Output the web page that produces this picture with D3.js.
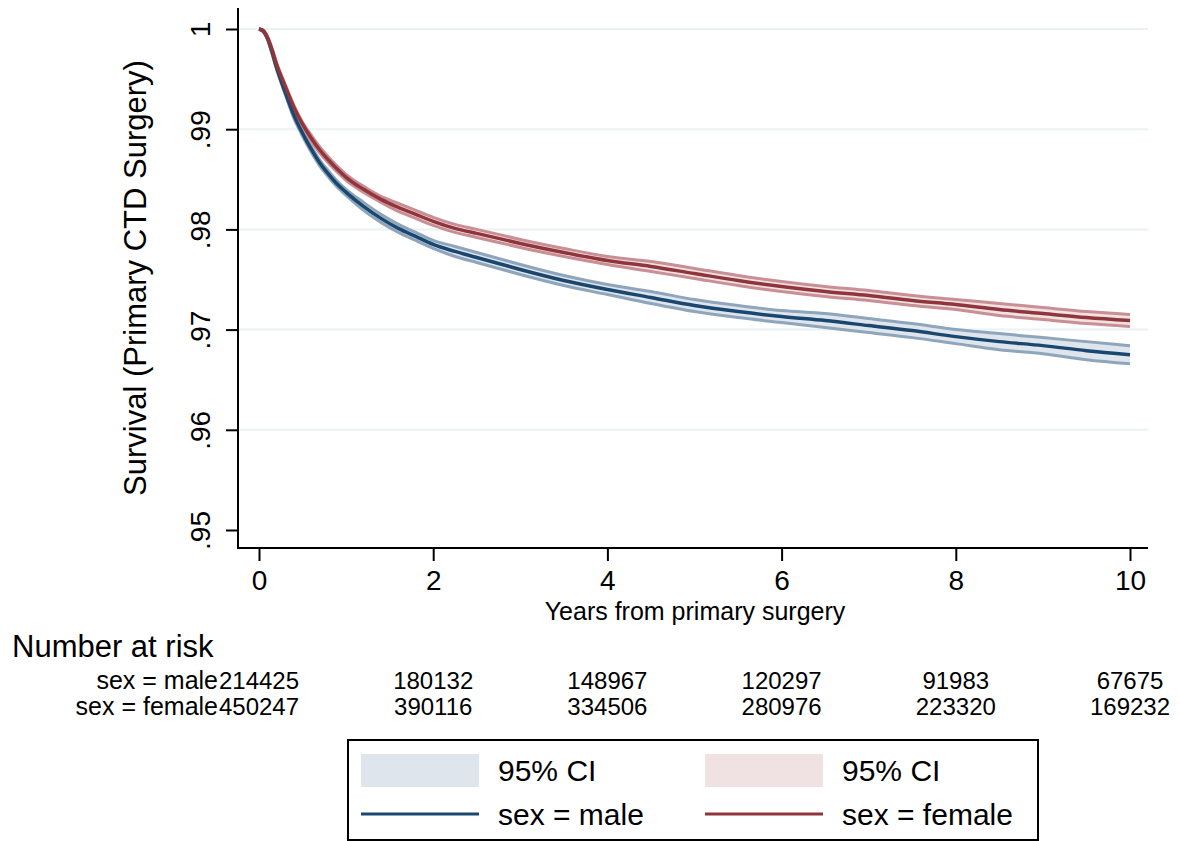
<!DOCTYPE html>
<html>
<head>
<meta charset="utf-8">
<script src="https://cdn.jsdelivr.net/npm/d3@7"></script>
<style>
  body { margin: 0; background: #fff; }
  text { font-family: "Liberation Sans", Arial, sans-serif; fill: #000; }
</style>
</head>
<body>
<script>
// Kaplan-Meier estimates
const years = [0, 0.05, 0.1, 0.15, 0.2, 0.3, 0.4, 0.5, 0.6, 0.7, 0.8, 0.9, 1.0, 1.2, 1.4, 1.6, 1.8, 2.0,
  2.25, 2.5, 2.75, 3.0, 3.5, 4.0, 4.5, 5.0, 5.5, 6.0, 6.5, 7.0, 7.5, 8.0, 8.5, 9.0, 9.5, 10];

const maleSurv = [1.0, .9998, .9990, .9977, .9962, .9937, .9914, .9896, .9880, .9866, .9855, .9845, .9837, .9823, .9811, .9801, .9793, .9785,
  .9778, .9772, .9766, .9760, .9749, .9740, .9732, .9724, .9718, .9713, .9709, .9704, .9699, .9693, .9688, .9684, .9679, .9675];
const maleLo = [1.0, .9997, .9989, .9975, .9960, .9935, .9911, .9893, .9877, .9863, .9852, .9842, .9834, .9819, .9807, .9797, .9789, .9781,
  .9773, .9767, .9761, .9755, .9744, .9735, .9726, .9718, .9712, .9707, .9702, .9697, .9692, .9686, .9680, .9676, .9670, .9666];
const maleHi = [1.0, .9999, .9991, .9979, .9964, .9939, .9917, .9899, .9883, .9869, .9858, .9848, .9840, .9827, .9815, .9805, .9797, .9789,
  .9783, .9777, .9771, .9765, .9754, .9745, .9738, .9730, .9724, .9719, .9716, .9711, .9706, .9700, .9696, .9692, .9688, .9684];

const femaleSurv = [1.0, .9998, .9991, .9979, .9965, .9943, .9922, .9905, .9891, .9879, .9869, .9860, .9852, .9840, .9830, .9822, .9815, .9808,
  .9801, .9796, .9791, .9786, .9777, .9769, .9763, .9756, .9749, .9743, .9738, .9734, .9729, .9725, .9720, .9716, .9712, .9709];
const femaleLo = [1.0, .9997, .9990, .9977, .9963, .9941, .9920, .9903, .9888, .9876, .9866, .9857, .9849, .9837, .9827, .9818, .9811, .9804,
  .9797, .9792, .9787, .9782, .9773, .9765, .9758, .9751, .9744, .9738, .9733, .9729, .9724, .9720, .9714, .9710, .9706, .9703];
const femaleHi = [1.0, .9999, .9992, .9981, .9967, .9945, .9924, .9907, .9894, .9882, .9872, .9863, .9855, .9843, .9833, .9826, .9819, .9812,
  .9805, .9800, .9795, .9790, .9781, .9773, .9768, .9761, .9754, .9748, .9743, .9739, .9734, .9730, .9726, .9722, .9718, .9715];

// number at risk table
const riskTimes = [0, 2, 4, 6, 8, 10];
const maleAtRisk = [214425, 180132, 148967, 120297, 91983, 67675];
const femaleAtRisk = [450247, 390116, 334506, 280976, 223320, 169232];

const xTicks = [0, 2, 4, 6, 8, 10];
const yTicks = [.95, .96, .97, .98, .99, 1];
const gridTicks = [.96, .97, .98, .99, 1];

const W = 1180, H = 841;
const plot = {left: 238, right: 1148, top: 8, bottom: 548};

const svg = d3.select("body").append("svg")
    .attr("width", W)
    .attr("height", H);

const x = d3.scaleLinear().domain([0, 10]).range([259, 1130]);
const y = d3.scaleLinear().domain([.95, 1]).range([530, 29]);

// gridlines
svg.append("g").attr("class", "grid")
  .selectAll("line").data(gridTicks)
  .enter().append("line")
    .attr("x1", plot.left + 1).attr("x2", plot.right)
    .attr("y1", d => y(d)).attr("y2", d => y(d))
    .attr("stroke", "#eaf2f3").attr("stroke-width", 2);

const series = [
  {surv: maleSurv, lo: maleLo, hi: maleHi, line: "#1a476f", edge: "#8ea5bb", fill: "#dfe5ec"},
  {surv: femaleSurv, lo: femaleLo, hi: femaleHi, line: "#90353b", edge: "#c98f95", fill: "#f0e2e3"}
];

const band = d3.area()
    .x((d, i) => x(years[i]))
    .y0(d => y(d[0]))
    .y1(d => y(d[1]))
    .curve(d3.curveMonotoneX);
const line = d3.line()
    .x((d, i) => x(years[i]))
    .y(d => y(d))
    .curve(d3.curveMonotoneX);

// CI bands first, then the estimates on top
series.forEach(s => {
  const pairs = s.lo.map((v, i) => [v, s.hi[i]]);
  svg.append("path").attr("d", band(pairs)).attr("fill", s.fill);
  [s.lo, s.hi].forEach(b => {
    svg.append("path").attr("d", line(b))
      .attr("fill", "none").attr("stroke", s.edge).attr("stroke-width", 3);
  });
});
series.forEach(s => {
  svg.append("path").attr("d", line(s.surv))
    .attr("fill", "none").attr("stroke", s.line).attr("stroke-width", 3.5);
});

// y axis
const yAxis = svg.append("g")
    .attr("transform", `translate(${plot.left},0)`)
    .call(d3.axisLeft(y).tickValues(yTicks).tickSize(12)
      .tickFormat(d => d === 1 ? "1" : d3.format(".2f")(d).replace(/^0/, "")));
yAxis.select(".domain").remove();
yAxis.selectAll(".tick line").attr("stroke", "#000").attr("stroke-width", 2);
yAxis.selectAll(".tick text")
    .attr("transform", "rotate(-90)")
    .attr("x", 0).attr("y", -28).attr("dy", 0)
    .attr("text-anchor", "middle")
    .style("font-size", "28px")
    .style("font-family", '"Liberation Sans", Arial, sans-serif');

// x axis
const xAxis = svg.append("g")
    .attr("transform", `translate(0,${plot.bottom + 1})`)
    .call(d3.axisBottom(x).tickValues(xTicks).tickSize(12).tickPadding(9));
xAxis.select(".domain").remove();
xAxis.selectAll(".tick line").attr("stroke", "#000").attr("stroke-width", 2);
xAxis.selectAll(".tick text")
    .style("font-size", "28px")
    .style("font-family", '"Liberation Sans", Arial, sans-serif');

// axis lines
svg.append("line")
    .attr("x1", plot.left).attr("x2", plot.left)
    .attr("y1", plot.top).attr("y2", plot.bottom + 1)
    .attr("stroke", "#000").attr("stroke-width", 2);
svg.append("line")
    .attr("x1", plot.left - 1).attr("x2", plot.right)
    .attr("y1", plot.bottom).attr("y2", plot.bottom)
    .attr("stroke", "#000").attr("stroke-width", 2);

// titles
svg.append("text")
    .attr("transform", "translate(146,278) rotate(-90)")
    .attr("text-anchor", "middle")
    .style("font-size", "31px")
    .text("Survival (Primary CTD Surgery)");
svg.append("text")
    .attr("x", 695).attr("y", 620)
    .attr("text-anchor", "middle")
    .style("font-size", "25px")
    .text("Years from primary surgery");

// number at risk
svg.append("text")
    .attr("x", 12).attr("y", 657)
    .style("font-size", "31px")
    .text("Number at risk");

const riskRows = [
  {label: "sex = male", counts: maleAtRisk, y: 689},
  {label: "sex = female", counts: femaleAtRisk, y: 715}
];
riskRows.forEach(r => {
  svg.append("text")
      .attr("x", 218).attr("y", r.y)
      .attr("text-anchor", "end")
      .style("font-size", "25px")
      .text(r.label);
  svg.append("g").selectAll("text").data(r.counts)
    .enter().append("text")
      .attr("x", (d, i) => x(riskTimes[i]))
      .attr("y", r.y)
      .attr("text-anchor", "middle")
      .style("font-size", "24px")
      .text(d => d);
});

// legend
const legend = svg.append("g").attr("class", "legend");
legend.append("rect")
    .attr("x", 348).attr("y", 740).attr("width", 690).attr("height", 100)
    .attr("fill", "#fff").attr("stroke", "#000").attr("stroke-width", 2);

const legendItems = [
  {key: "area", color: series[0].fill, label: "95% CI", col: 0, row: 0},
  {key: "area", color: series[1].fill, label: "95% CI", col: 1, row: 0},
  {key: "line", color: series[0].line, label: "sex = male", col: 0, row: 1},
  {key: "line", color: series[1].line, label: "sex = female", col: 1, row: 1}
];
const colX = [361, 705], rowY = [770, 814];
legendItems.forEach(it => {
  const x0 = colX[it.col], yc = rowY[it.row];
  if (it.key === "area") {
    legend.append("rect")
        .attr("x", x0).attr("y", yc - 16).attr("width", 118).attr("height", 33)
        .attr("fill", it.color);
  } else {
    legend.append("line")
        .attr("x1", x0).attr("x2", x0 + 118)
        .attr("y1", yc).attr("y2", yc)
        .attr("stroke", it.color).attr("stroke-width", 3);
  }
  legend.append("text")
      .attr("x", x0 + 137).attr("y", yc + 11)
      .style("font-size", "30px")
      .text(it.label);
});
</script>
</body>
</html>
